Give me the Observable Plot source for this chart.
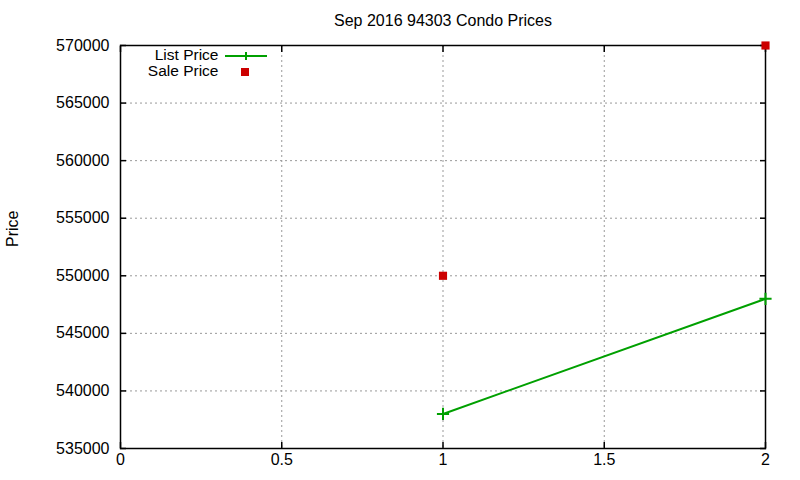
<!DOCTYPE html>
<html>
<head>
<meta charset="utf-8">
<script src="https://cdn.jsdelivr.net/npm/d3@7"></script>
<script src="https://cdn.jsdelivr.net/npm/@observablehq/plot@0.6"></script>
<style>
  html, body { margin: 0; padding: 0; background: #fff; }
  #chart svg { display: block; }
</style>
</head>
<body>
<div id="chart"></div>
<script>
const title = "Sep 2016 94303 Condo Prices";
const yLabel = "Price";
const xValues = [1, 2];
const listPrice = [538000, 548000];
const salePrice = [550000, 570000];
const seriesNames = ["List Price", "Sale Price"];
const xTicks = [0, 0.5, 1, 1.5, 2];
const yTicks = [535000, 540000, 545000, 550000, 555000, 560000, 565000, 570000];
const xDomain = [0, 2];
const yDomain = [535000, 570000];

const listData = xValues.map((x, i) => ({x, y: listPrice[i]}));
const saleData = xValues.map((x, i) => ({x, y: salePrice[i]}));

const green = "#00a000";
const red = "#cc0000";
const font = "'Liberation Sans', Arial, sans-serif";
const fs = 16;

const chart = Plot.plot({
  width: 800,
  height: 480,
  marginLeft: 120,
  marginRight: 35,
  marginTop: 45,
  marginBottom: 32,
  style: {fontFamily: font, fontSize: fs + "px", color: "#000", background: "#fff"},
  x: {domain: xDomain, ticks: xTicks},
  y: {domain: yDomain, ticks: yTicks},
  marks: [
    Plot.gridX(xTicks.slice(1, -1), {stroke: "#999999", strokeOpacity: 1, strokeDasharray: "2,3", strokeWidth: 1}),
    Plot.gridY(yTicks.slice(1, -1), {stroke: "#999999", strokeOpacity: 1, strokeDasharray: "2,3", strokeWidth: 1}),
    Plot.axisY(yTicks, {anchor: "left", tickSize: 0, tickPadding: 11, tickFormat: d => String(d), fontSize: fs, label: null}),
    Plot.axisX(xTicks, {anchor: "bottom", tickSize: 0, tickPadding: 5, tickFormat: d => String(d), fontSize: fs, label: null}),
    Plot.axisY(yTicks, {anchor: "left", tickSize: 6, text: null, dx: 6, label: null, strokeWidth: 1.5}),
    Plot.axisY(yTicks, {anchor: "right", tickSize: 6, text: null, dx: -6, label: null, strokeWidth: 1.5}),
    Plot.axisX(xTicks, {anchor: "bottom", tickSize: 6, text: null, dy: -6, label: null, strokeWidth: 1.5}),
    Plot.axisX(xTicks, {anchor: "top", tickSize: 6, text: null, dy: 6, label: null, strokeWidth: 1.5}),
    Plot.frame({stroke: "#000", strokeWidth: 1.5}),
    Plot.line(listData, {x: "x", y: "y", stroke: green, strokeWidth: 2}),
    Plot.dot(listData, {x: "x", y: "y", symbol: "plus", r: 4, stroke: green, strokeWidth: 2}),
    Plot.dot(saleData, {x: "x", y: "y", symbol: "square", r: 4.6, fill: red, stroke: "none"}),
    Plot.text([title], {frameAnchor: "top", dy: -25, lineAnchor: "middle", text: d => d, fontSize: fs, fill: "#000"}),
    Plot.text([yLabel], {frameAnchor: "left", dx: -108, rotate: -90, text: d => d, fontSize: fs, fill: "#000"}),
    Plot.text([seriesNames[0]], {frameAnchor: "top-left", dx: 98, dy: 10, lineAnchor: "middle", text: d => d, textAnchor: "end", fontSize: 15.5, fill: "#000"}),
    Plot.text([seriesNames[1]], {frameAnchor: "top-left", dx: 98, dy: 26, lineAnchor: "middle", text: d => d, textAnchor: "end", fontSize: 15.5, fill: "#000"})
  ]
});

// legend samples
const svg = d3.select(chart);
const fx = 120, fy = 45;
const g = svg.append("g");
g.append("line").attr("x1", fx + 105).attr("x2", fx + 147).attr("y1", fy + 11).attr("y2", fy + 11)
  .attr("stroke", green).attr("stroke-width", 2);
g.append("path").attr("d", `M${fx + 126 - 4},${fy + 11}h8M${fx + 126},${fy + 7}v8`)
  .attr("stroke", green).attr("stroke-width", 2);
g.append("rect").attr("x", fx + 125 - 4).attr("y", fy + 27 - 4).attr("width", 8).attr("height", 8).attr("fill", red);

document.getElementById("chart").appendChild(chart);
</script>
</body>
</html>
